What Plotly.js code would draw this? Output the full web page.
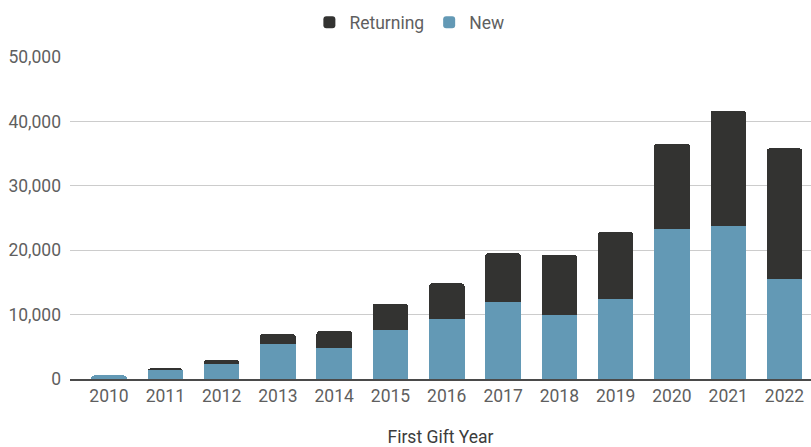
<!DOCTYPE html>
<html>
<head>
<meta charset="utf-8">
<script src="https://cdn.plot.ly/plotly-3.0.1.min.js"></script>
<style>html,body{margin:0;padding:0;background:#fff;}#chart{width:811px;height:447px;}</style>
</head>
<body>
<div id="chart"></div>
<script>
const years = ["2010","2011","2012","2013","2014","2015","2016","2017","2018","2019","2020","2021","2022"];
const newDonors = [550, 1460, 2330, 5430, 4760, 7660, 9260, 11890, 9880, 12360, 23320, 23780, 15460];
const returningDonors = [20, 200, 620, 1550, 2680, 4030, 5580, 7640, 9410, 10490, 13220, 17880, 20350];
const seriesNames = ["New", "Returning"];
const tickVals = [0, 10000, 20000, 30000, 40000, 50000];
const tickText = ["0", "10,000", "20,000", "30,000", "40,000", "50,000"];

const font = {family: "Roboto, 'Open Sans', sans-serif", size: 17.5, color: "#5f5f5f"};

const traces = [
  {type: "bar", name: seriesNames[0], x: years, y: newDonors, marker: {color: "#6399b5"}, hoverinfo: "x+y+name"},
  {type: "bar", name: seriesNames[1], x: years, y: returningDonors, marker: {color: "#333331"}, hoverinfo: "x+y+name"}
];

const layout = {
  width: 811, height: 447,
  margin: {l: 70, r: 0, t: 57, b: 67.5, pad: 0},
  paper_bgcolor: "#fff", plot_bgcolor: "#fff",
  font: font,
  barmode: "stack",
  bargap: 0.37,
  barcornerradius: 3,
  showlegend: true,
  legend: {orientation: "h", x: 0.458, xanchor: "center", y: 0.99, yref: "container", yanchor: "top",
           traceorder: "reversed", font: {family: font.family, size: 17.5, color: "#5f5f5f"}, itemwidth: 30},
  xaxis: {
    type: "category",
    range: [-0.693, 12.47],
    showgrid: false, zeroline: false,
    showline: true, linecolor: "#4a4a4a", linewidth: 2,
    ticks: "", tickfont: {size: 17.5, color: "#5f5f5f"},
    title: {text: "First Gift Year", font: {size: 17.5, color: "#3c3c3c"}, standoff: 27}
  },
  yaxis: {
    range: [0, 50000],
    tickvals: tickVals, ticktext: tickText,
    showgrid: true, gridcolor: "#cccccc", gridwidth: 1,
    zeroline: false, showline: false,
    ticks: "", ticklabelstandoff: 8,
    tickfont: {size: 17.5, color: "#5f5f5f"}
  }
};

Plotly.newPlot("chart", traces, layout, {displayModeBar: false, staticPlot: true});
</script>
</body>
</html>
